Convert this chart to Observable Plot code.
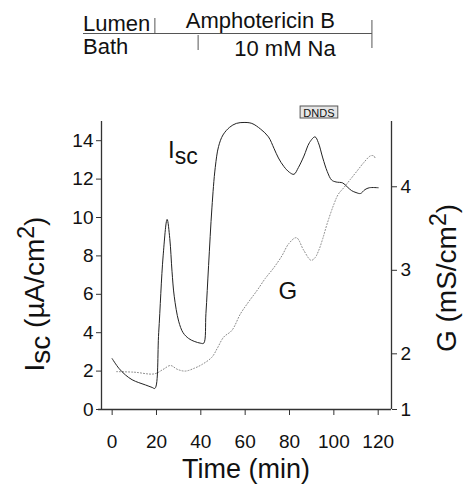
<!DOCTYPE html>
<html><head><meta charset="utf-8">
<script src="https://cdn.jsdelivr.net/npm/d3@7"></script>
<script src="https://cdn.jsdelivr.net/npm/@observablehq/plot@0.6"></script>
<style>
body{margin:0;background:#fff}
#chart svg{font-family:"Liberation Sans",Arial,Helvetica,sans-serif}
</style>
</head><body><div id="chart"></div>
<script>
// Short-circuit current Isc (µA/cm²) vs time (min)
const iscTime  = [0, 3, 6, 9, 12, 15, 18, 19.3, 21, 23, 24.8, 26, 27, 28, 30, 32, 34.5, 37, 40, 41.3, 42.3, 43.5, 45, 46.5, 48, 50, 53, 56, 59.5, 63, 67, 70.5, 73, 75, 77.5, 80, 82, 84, 86.5, 89, 91.5, 93, 95, 97, 99, 101, 104, 106, 108, 110, 112, 114, 116, 120];
const iscValue = [2.65, 2.15, 1.8, 1.55, 1.4, 1.28, 1.15, 1.1, 4.0, 8.0, 9.9, 8.9, 7.2, 5.9, 4.6, 4.0, 3.7, 3.55, 3.45, 3.45, 5.0, 7.5, 10.5, 12.6, 13.7, 14.3, 14.7, 14.9, 14.95, 14.9, 14.6, 14.2, 13.6, 13.1, 12.65, 12.35, 12.25, 12.6, 13.2, 13.9, 14.2, 13.9, 13.1, 12.4, 11.95, 11.85, 11.8, 11.6, 11.4, 11.3, 11.25, 11.45, 11.55, 11.55];
// Conductance G (mS/cm²) vs time (min)
const gTime  = [2, 10, 19, 23, 26.3, 29.5, 33, 37, 40.6, 45, 47.5, 50.3, 54, 57.9, 61.5, 65.4, 69, 72.9, 76.5, 79.7, 83.1, 86.4, 89.7, 91.5, 93.2, 95, 97, 100, 102, 104.5, 107.5, 110.5, 113.5, 116.5, 118, 118.8];
const gValue = [1.68, 1.67, 1.64, 1.72, 1.79, 1.72, 1.69, 1.74, 1.81, 1.94, 2.07, 2.2, 2.28, 2.48, 2.62, 2.76, 2.9, 3.03, 3.17, 3.32, 3.39, 3.24, 3.12, 3.15, 3.24, 3.38, 3.56, 3.79, 3.91, 3.99, 4.09, 4.19, 4.29, 4.37, 4.37, 4.33];

const xTicks = [0, 20, 40, 60, 80, 100, 120];
const iscTicks = [0, 2, 4, 6, 8, 10, 12, 14];
const gTicks = [1, 2, 3, 4];
const gTickAtIsc = [0, 2.9, 7.25, 11.6]; // where the G ticks sit on the Isc scale (as drawn)

// Protocol annotations (min)
const amphoStart = [19.5];
const naStart = [39];
const protocolEnd = [117.4];
const dndsSpan = [85, 102];

const xDomain = [-4.8, 126];
const yDomain = [0, 15];

const gToIsc = d3.scaleLinear().domain(gTicks).range(gTickAtIsc);
const isc = iscTime.map((t, i) => ({t, v: iscValue[i]}));
const gData = gTime.map((t, i) => ({t, v: gToIsc(gValue[i])}));

const ink = "#333";
const plot = Plot.plot({
  width: 465, height: 489,
  marginLeft: 101, marginRight: 74, marginTop: 121, marginBottom: 80,
  x: {domain: xDomain, label: null},
  y: {domain: yDomain, label: null},
  style: {fontSize: "19px", fontFamily: "'Liberation Sans', Arial, sans-serif", color: "#111", background: "white", overflow: "visible"},
  marks: [
    Plot.axisX({ticks: xTicks, tickSize: 6, tickPadding: 19, label: null, stroke: ink, fill: "#111"}),
    Plot.axisY({ticks: iscTicks, anchor: "left", tickSize: 5, tickPadding: 3, label: null, stroke: ink, fill: "#111"}),
    Plot.axisY({ticks: gTickAtIsc, anchor: "right", tickSize: 5, tickPadding: 4, label: null, stroke: ink, fill: "#111",
      tickFormat: d => String(Math.round(gToIsc.invert(d)))}),
    Plot.ruleX([xDomain[0], xDomain[1]], {y1: yDomain[0], y2: yDomain[1], stroke: ink, strokeWidth: 1.3}),
    Plot.ruleY([0], {x1: -6.2, x2: xDomain[1], stroke: ink, strokeWidth: 1.3}),
    Plot.line(gData, {x: "t", y: "v", stroke: "#888", strokeWidth: 1, strokeDasharray: "1,2", curve: "catmull-rom"}),
    Plot.line(isc, {x: "t", y: "v", stroke: "#222", strokeWidth: 1, curve: "catmull-rom"})
  ]
});
document.getElementById("chart").appendChild(plot);

const svg = d3.select(plot);
const xs = plot.scale("x"), ys = plot.scale("y");
const X = t => xs.apply(t), Y = v => ys.apply(v);
const font = "'Liberation Sans', Arial, sans-serif";

// Protocol bars at top
const gl = svg.append("g").attr("stroke", "#555").attr("stroke-width", 1).attr("fill", "none");
const left0 = X(xDomain[0]) - 18;
gl.append("line").attr("x1", left0).attr("x2", X(protocolEnd[0])).attr("y1", 33.5).attr("y2", 33.5);
gl.append("line").attr("x1", X(amphoStart[0])).attr("x2", X(amphoStart[0])).attr("y1", 18).attr("y2", 33.5);
gl.append("line").attr("x1", X(naStart[0])).attr("x2", X(naStart[0])).attr("y1", 35).attr("y2", 50);
gl.append("line").attr("x1", X(protocolEnd[0])).attr("x2", X(protocolEnd[0])).attr("y1", 20).attr("y2", 48);
const tl = svg.append("g").attr("font-family", font).attr("font-size", 22).attr("fill", "#111").attr("text-anchor", "start");
tl.append("text").attr("x", left0).attr("y", 31).text("Lumen");
tl.append("text").attr("x", left0).attr("y", 54).text("Bath");
tl.append("text").attr("x", (X(amphoStart[0]) + X(protocolEnd[0])) / 2 - 3).attr("y", 28).attr("text-anchor", "middle").text("Amphotericin B");
tl.append("text").attr("x", (X(naStart[0]) + X(protocolEnd[0])) / 2).attr("y", 56).attr("text-anchor", "middle").text("10 mM Na");

// DNDS box
const dg = svg.append("g");
dg.append("rect").attr("x", X(dndsSpan[0])).attr("width", X(dndsSpan[1]) - X(dndsSpan[0])).attr("y", 106).attr("height", 12)
  .attr("fill", "#e6e6e6").attr("stroke", "#555").attr("stroke-width", 1);
dg.append("text").attr("x", (X(dndsSpan[0]) + X(dndsSpan[1])) / 2).attr("y", 116.5).attr("text-anchor", "middle")
  .attr("font-family", font).attr("font-size", 11).attr("fill", "#111").text("DNDS");

// Curve labels
const lab = svg.append("g").attr("font-family", font).attr("font-size", 24).attr("fill", "#111").attr("text-anchor", "start");
const iscLab = lab.append("text").attr("x", X(25.4)).attr("y", Y(13.07));
iscLab.append("tspan").text("I");
iscLab.append("tspan").attr("dy", 6).attr("font-size", 23).text("sc");
lab.append("text").attr("x", X(79.5)).attr("y", Y(5.73)).attr("text-anchor", "middle").text("G");

// Axis titles
const at = svg.append("g").attr("font-family", font).attr("fill", "#111");
at.append("text").attr("x", (X(xDomain[0]) + X(xDomain[1])) / 2).attr("y", 478).attr("font-size", 27).attr("text-anchor", "middle").text("Time (min)");
const yl = at.append("text").attr("transform", "translate(44,294) rotate(-90)").attr("text-anchor", "middle").attr("font-size", 28);
yl.append("tspan").text("I");
yl.append("tspan").attr("dy", 6).text("sc");
yl.append("tspan").attr("dy", -6).text(" (µA/cm");
yl.append("tspan").attr("dy", -10).attr("font-size", 23).text("2");
yl.append("tspan").attr("dy", 10).text(")");
const gl2 = at.append("text").attr("transform", "translate(456,278) rotate(-90)").attr("text-anchor", "middle").attr("font-size", 28);
gl2.append("tspan").text("G (mS/cm");
gl2.append("tspan").attr("dy", -10).attr("font-size", 23).text("2");
gl2.append("tspan").attr("dy", 10).text(")");
</script>
</body></html>
